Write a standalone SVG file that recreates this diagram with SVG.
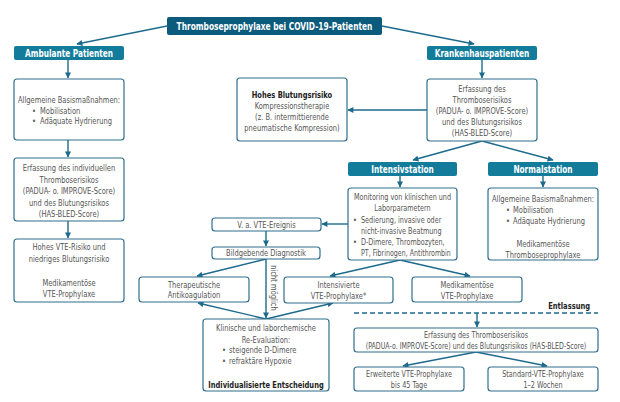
<svg xmlns="http://www.w3.org/2000/svg" width="620" height="402" viewBox="0 0 620 402">
<defs>
<marker id="ah" viewBox="0 0 10 10" refX="9" refY="5" markerWidth="7" markerHeight="6" orient="auto" markerUnits="userSpaceOnUse"><path d="M0,0 L10,5 L0,10 z" fill="#1d6a8c"/></marker>
</defs>
<style>
.box{fill:#fff;stroke:#2f6f8e;stroke-width:1.2}
.hdr{fill:#137c9b}
.ttl{fill:#0b5b7c}
.t{font-family:"DejaVu Sans Condensed","Liberation Sans",sans-serif;font-size:9px;fill:#555;text-anchor:middle}
.l{text-anchor:start}
.e{text-anchor:end}
.b{font-weight:bold;fill:#222}
.w{font-family:"DejaVu Sans Condensed","Liberation Sans",sans-serif;font-size:10px;font-weight:bold;fill:#fff;text-anchor:middle}
.c{fill:none;stroke:#1d6a8c;stroke-width:1.4}
</style>
<rect width="620" height="402" fill="#fff"/>
<g id="connectors">
<line class="c" x1="167" y1="26" x2="77" y2="44" marker-end="url(#ah)"/>
<line class="c" x1="382" y1="26" x2="474" y2="44" marker-end="url(#ah)"/>
<line class="c" x1="68" y1="60" x2="68" y2="78" marker-end="url(#ah)"/>
<line class="c" x1="68" y1="140" x2="68" y2="157" marker-end="url(#ah)"/>
<line class="c" x1="68" y1="221" x2="68" y2="238" marker-end="url(#ah)"/>
<line class="c" x1="482" y1="60" x2="482" y2="78" marker-end="url(#ah)"/>
<line class="c" x1="427" y1="110" x2="348" y2="110" marker-end="url(#ah)"/>
<line class="c" x1="482" y1="141" x2="413" y2="160" marker-end="url(#ah)"/>
<line class="c" x1="482" y1="141" x2="553" y2="160" marker-end="url(#ah)"/>
<line class="c" x1="400" y1="176" x2="400" y2="187" marker-end="url(#ah)"/>
<line class="c" x1="543" y1="176" x2="543" y2="187" marker-end="url(#ah)"/>
<line class="c" x1="348" y1="224" x2="322" y2="224" marker-end="url(#ah)"/>
<line class="c" x1="266" y1="231" x2="266" y2="246" marker-end="url(#ah)"/>
<line class="c" x1="266" y1="259" x2="197" y2="276" marker-end="url(#ah)"/>
<line class="c" x1="266" y1="259" x2="266" y2="318" marker-end="url(#ah)"/>
<line class="c" x1="400" y1="260" x2="330" y2="276" marker-end="url(#ah)"/>
<line class="c" x1="400" y1="260" x2="470" y2="276" marker-end="url(#ah)"/>
<line class="c" x1="266" y1="319" x2="198" y2="303" marker-end="url(#ah)"/>
<line class="c" x1="266" y1="319" x2="333" y2="303" marker-end="url(#ah)"/>
<line class="c" x1="354" y1="313" x2="598" y2="313" stroke-dasharray="5,3" stroke-width="1.6"/>
<line class="c" x1="477" y1="313" x2="477" y2="327" marker-end="url(#ah)"/>
<line class="c" x1="476" y1="352" x2="403" y2="366" marker-end="url(#ah)"/>
<line class="c" x1="476" y1="352" x2="547" y2="366" marker-end="url(#ah)"/>
<text class="t" transform="translate(271,288) rotate(90) scale(.83,1)" font-size="7.5">nicht möglich</text>
<text class="t b e" transform="translate(590,309) scale(.83,1)" font-size="10">Entlassung</text>
</g>
<g id="title"><rect class="ttl" x="167" y="17" width="215" height="18" rx="2"/><text class="w" transform="translate(274.5,29.5) scale(.83,1)">Thromboseprophylaxe bei COVID-19-Patienten</text></g>
<g id="ambulant"><rect class="hdr" x="14" y="46" width="110" height="14" rx="2"/><text class="w" transform="translate(69,56.5) scale(.82,1)">Ambulante Patienten</text></g>
<g id="kranken"><rect class="hdr" x="427" y="46" width="110" height="14" rx="2"/><text class="w" transform="translate(482,56.5) scale(.82,1)">Krankenhauspatienten</text></g>
<g id="amb-basis"><rect class="box" x="14" y="79" width="110" height="61" rx="3"/>
<text class="t" transform="translate(69,103) scale(.83,1)">Allgemeine Basismaßnahmen:</text>
<text class="t l" transform="translate(32,113.5) scale(.83,1)">•</text><text class="t l" transform="translate(40,113.5) scale(.83,1)">Mobilisation</text>
<text class="t l" transform="translate(32,124) scale(.83,1)">•</text><text class="t l" transform="translate(40,124) scale(.83,1)">Adäquate Hydrierung</text></g>
<g id="amb-erfassung"><rect class="box" x="14" y="158" width="110" height="63" rx="3"/>
<text class="t" transform="translate(69,171) scale(.83,1)">Erfassung des individuellen</text>
<text class="t" transform="translate(69,182.5) scale(.83,1)">Thromboserisikos</text>
<text class="t" transform="translate(69,194) scale(.83,1)">(PADUA- o. IMPROVE-Score)</text>
<text class="t" transform="translate(69,205.5) scale(.83,1)">und des Blutungsrisikos</text>
<text class="t" transform="translate(69,217) scale(.83,1)">(HAS-BLED-Score)</text></g>
<g id="amb-hoch"><rect class="box" x="14" y="239" width="110" height="63" rx="3"/>
<text class="t" transform="translate(69,250) scale(.83,1)">Hohes VTE-Risiko und</text>
<text class="t" transform="translate(69,262) scale(.83,1)">niedriges Blutungsrisiko</text>
<text class="t" transform="translate(69,286) scale(.83,1)">Medikamentöse</text>
<text class="t" transform="translate(69,297) scale(.83,1)">VTE-Prophylaxe</text></g>
<g id="blutung"><rect class="box" x="237" y="78" width="110" height="63" rx="3"/>
<text class="t b" transform="translate(292,97.5) scale(.83,1)" font-size="10.5">Hohes Blutungsrisiko</text>
<text class="t" transform="translate(292,108.5) scale(.83,1)">Kompressionstherapie</text>
<text class="t" transform="translate(292,119.5) scale(.83,1)">(z. B. intermittierende</text>
<text class="t" transform="translate(292,130.5) scale(.83,1)">pneumatische Kompression)</text></g>
<g id="kh-erfassung"><rect class="box" x="427" y="79" width="110" height="62" rx="3"/>
<text class="t" transform="translate(482,92) scale(.83,1)">Erfassung des</text>
<text class="t" transform="translate(482,102.5) scale(.83,1)">Thromboserisikos</text>
<text class="t" transform="translate(482,113.5) scale(.83,1)">(PADUA- o. IMPROVE-Score)</text>
<text class="t" transform="translate(482,124.5) scale(.83,1)">und des Blutungsrisikos</text>
<text class="t" transform="translate(482,135.5) scale(.83,1)">(HAS-BLED-Score)</text></g>
<g id="intensiv"><rect class="hdr" x="348" y="162" width="109" height="14" rx="2"/><text class="w" transform="translate(402.5,172.5) scale(.82,1)">Intensivstation</text></g>
<g id="normal"><rect class="hdr" x="488" y="162" width="110" height="14" rx="2"/><text class="w" transform="translate(543,172.5) scale(.82,1)">Normalstation</text></g>
<g id="monitoring"><rect class="box" x="348" y="188" width="109" height="72" rx="3"/>
<text class="t" transform="translate(402.5,200) scale(.8,1)">Monitoring von klinischen und</text>
<text class="t" transform="translate(402.5,211) scale(.8,1)">Laborparametern</text>
<text class="t l" transform="translate(353,222.5) scale(.8,1)">•</text><text class="t l" transform="translate(361,222.5) scale(.8,1)">Sedierung, invasive oder</text>
<text class="t l" transform="translate(361,233.5) scale(.8,1)">nicht-invasive Beatmung</text>
<text class="t l" transform="translate(353,244.5) scale(.8,1)">•</text><text class="t l" transform="translate(361,244.5) scale(.8,1)">D-Dimere, Thrombozyten,</text>
<text class="t l" transform="translate(361,255.5) scale(.78,1)">PT, Fibrinogen, Antithrombin</text></g>
<g id="normal-basis"><rect class="box" x="488" y="188" width="110" height="72" rx="3"/>
<text class="t" transform="translate(543,202) scale(.83,1)">Allgemeine Basismaßnahmen:</text>
<text class="t l" transform="translate(506,213) scale(.83,1)">•</text><text class="t l" transform="translate(513,213) scale(.83,1)">Mobilisation</text>
<text class="t l" transform="translate(506,224) scale(.83,1)">•</text><text class="t l" transform="translate(513,224) scale(.83,1)">Adäquate Hydrierung</text>
<text class="t" transform="translate(543,247) scale(.83,1)">Medikamentöse</text>
<text class="t" transform="translate(543,258) scale(.83,1)">Thromboseprophylaxe</text></g>
<g id="vte-ereignis"><rect class="box" x="212" y="218" width="109" height="13" rx="3"/><text class="t" transform="translate(266.5,227.8) scale(.83,1)">V. a. VTE-Ereignis</text></g>
<g id="bildgebend"><rect class="box" x="212" y="247" width="108" height="12" rx="3"/><text class="t" transform="translate(266,256.3) scale(.83,1)">Bildgebende Diagnostik</text></g>
<g id="therapeutisch"><rect class="box" x="139" y="277" width="110" height="25" rx="3"/>
<text class="t" transform="translate(194,287.5) scale(.83,1)">Therapeutische</text><text class="t" transform="translate(194,298) scale(.83,1)">Antikoagulation</text></g>
<g id="intensiviert"><rect class="box" x="284" y="277" width="109" height="26" rx="3"/>
<text class="t" transform="translate(338.5,288) scale(.83,1)">Intensivierte</text><text class="t" transform="translate(338.5,299) scale(.83,1)">VTE-Prophylaxe*</text></g>
<g id="medikamentoes"><rect class="box" x="412" y="277" width="110" height="25" rx="3"/>
<text class="t" transform="translate(467,288) scale(.83,1)">Medikamentöse</text><text class="t" transform="translate(467,299) scale(.83,1)">VTE-Prophylaxe</text></g>
<g id="klinisch"><rect class="box" x="203" y="319" width="126" height="72" rx="3"/>
<text class="t" transform="translate(266,331) scale(.83,1)">Klinische und laborchemische</text>
<text class="t" transform="translate(266,342.5) scale(.83,1)">Re-Evaluation:</text>
<text class="t l" transform="translate(222,353) scale(.83,1)">•</text><text class="t l" transform="translate(229,353) scale(.83,1)">steigende D-Dimere</text>
<text class="t l" transform="translate(222,364) scale(.83,1)">•</text><text class="t l" transform="translate(229,364) scale(.83,1)">refraktäre Hypoxie</text>
<text class="t b" transform="translate(266,387.5) scale(.83,1)" font-size="10.5">Individualisierte Entscheidung</text></g>
<g id="entl-erfassung"><rect class="box" x="354" y="328" width="244" height="24" rx="3"/>
<text class="t" transform="translate(476,337.5) scale(.8,1)">Erfassung des Thromboserisikos</text>
<text class="t" transform="translate(476,349) scale(.78,1)">(PADUA-o. IMPROVE-Score) und des Blutungsrisikos (HAS-BLED-Score)</text></g>
<g id="erweitert"><rect class="box" x="354" y="367" width="110" height="24" rx="3"/>
<text class="t" transform="translate(409,377) scale(.8,1)">Erweiterte VTE-Prophylaxe</text><text class="t" transform="translate(409,388) scale(.8,1)">bis 45 Tage</text></g>
<g id="standard"><rect class="box" x="488" y="367" width="110" height="24" rx="3"/>
<text class="t" transform="translate(543,377) scale(.8,1)">Standard-VTE-Prophylaxe</text><text class="t" transform="translate(543,388) scale(.8,1)">1–2 Wochen</text></g>
</svg>
